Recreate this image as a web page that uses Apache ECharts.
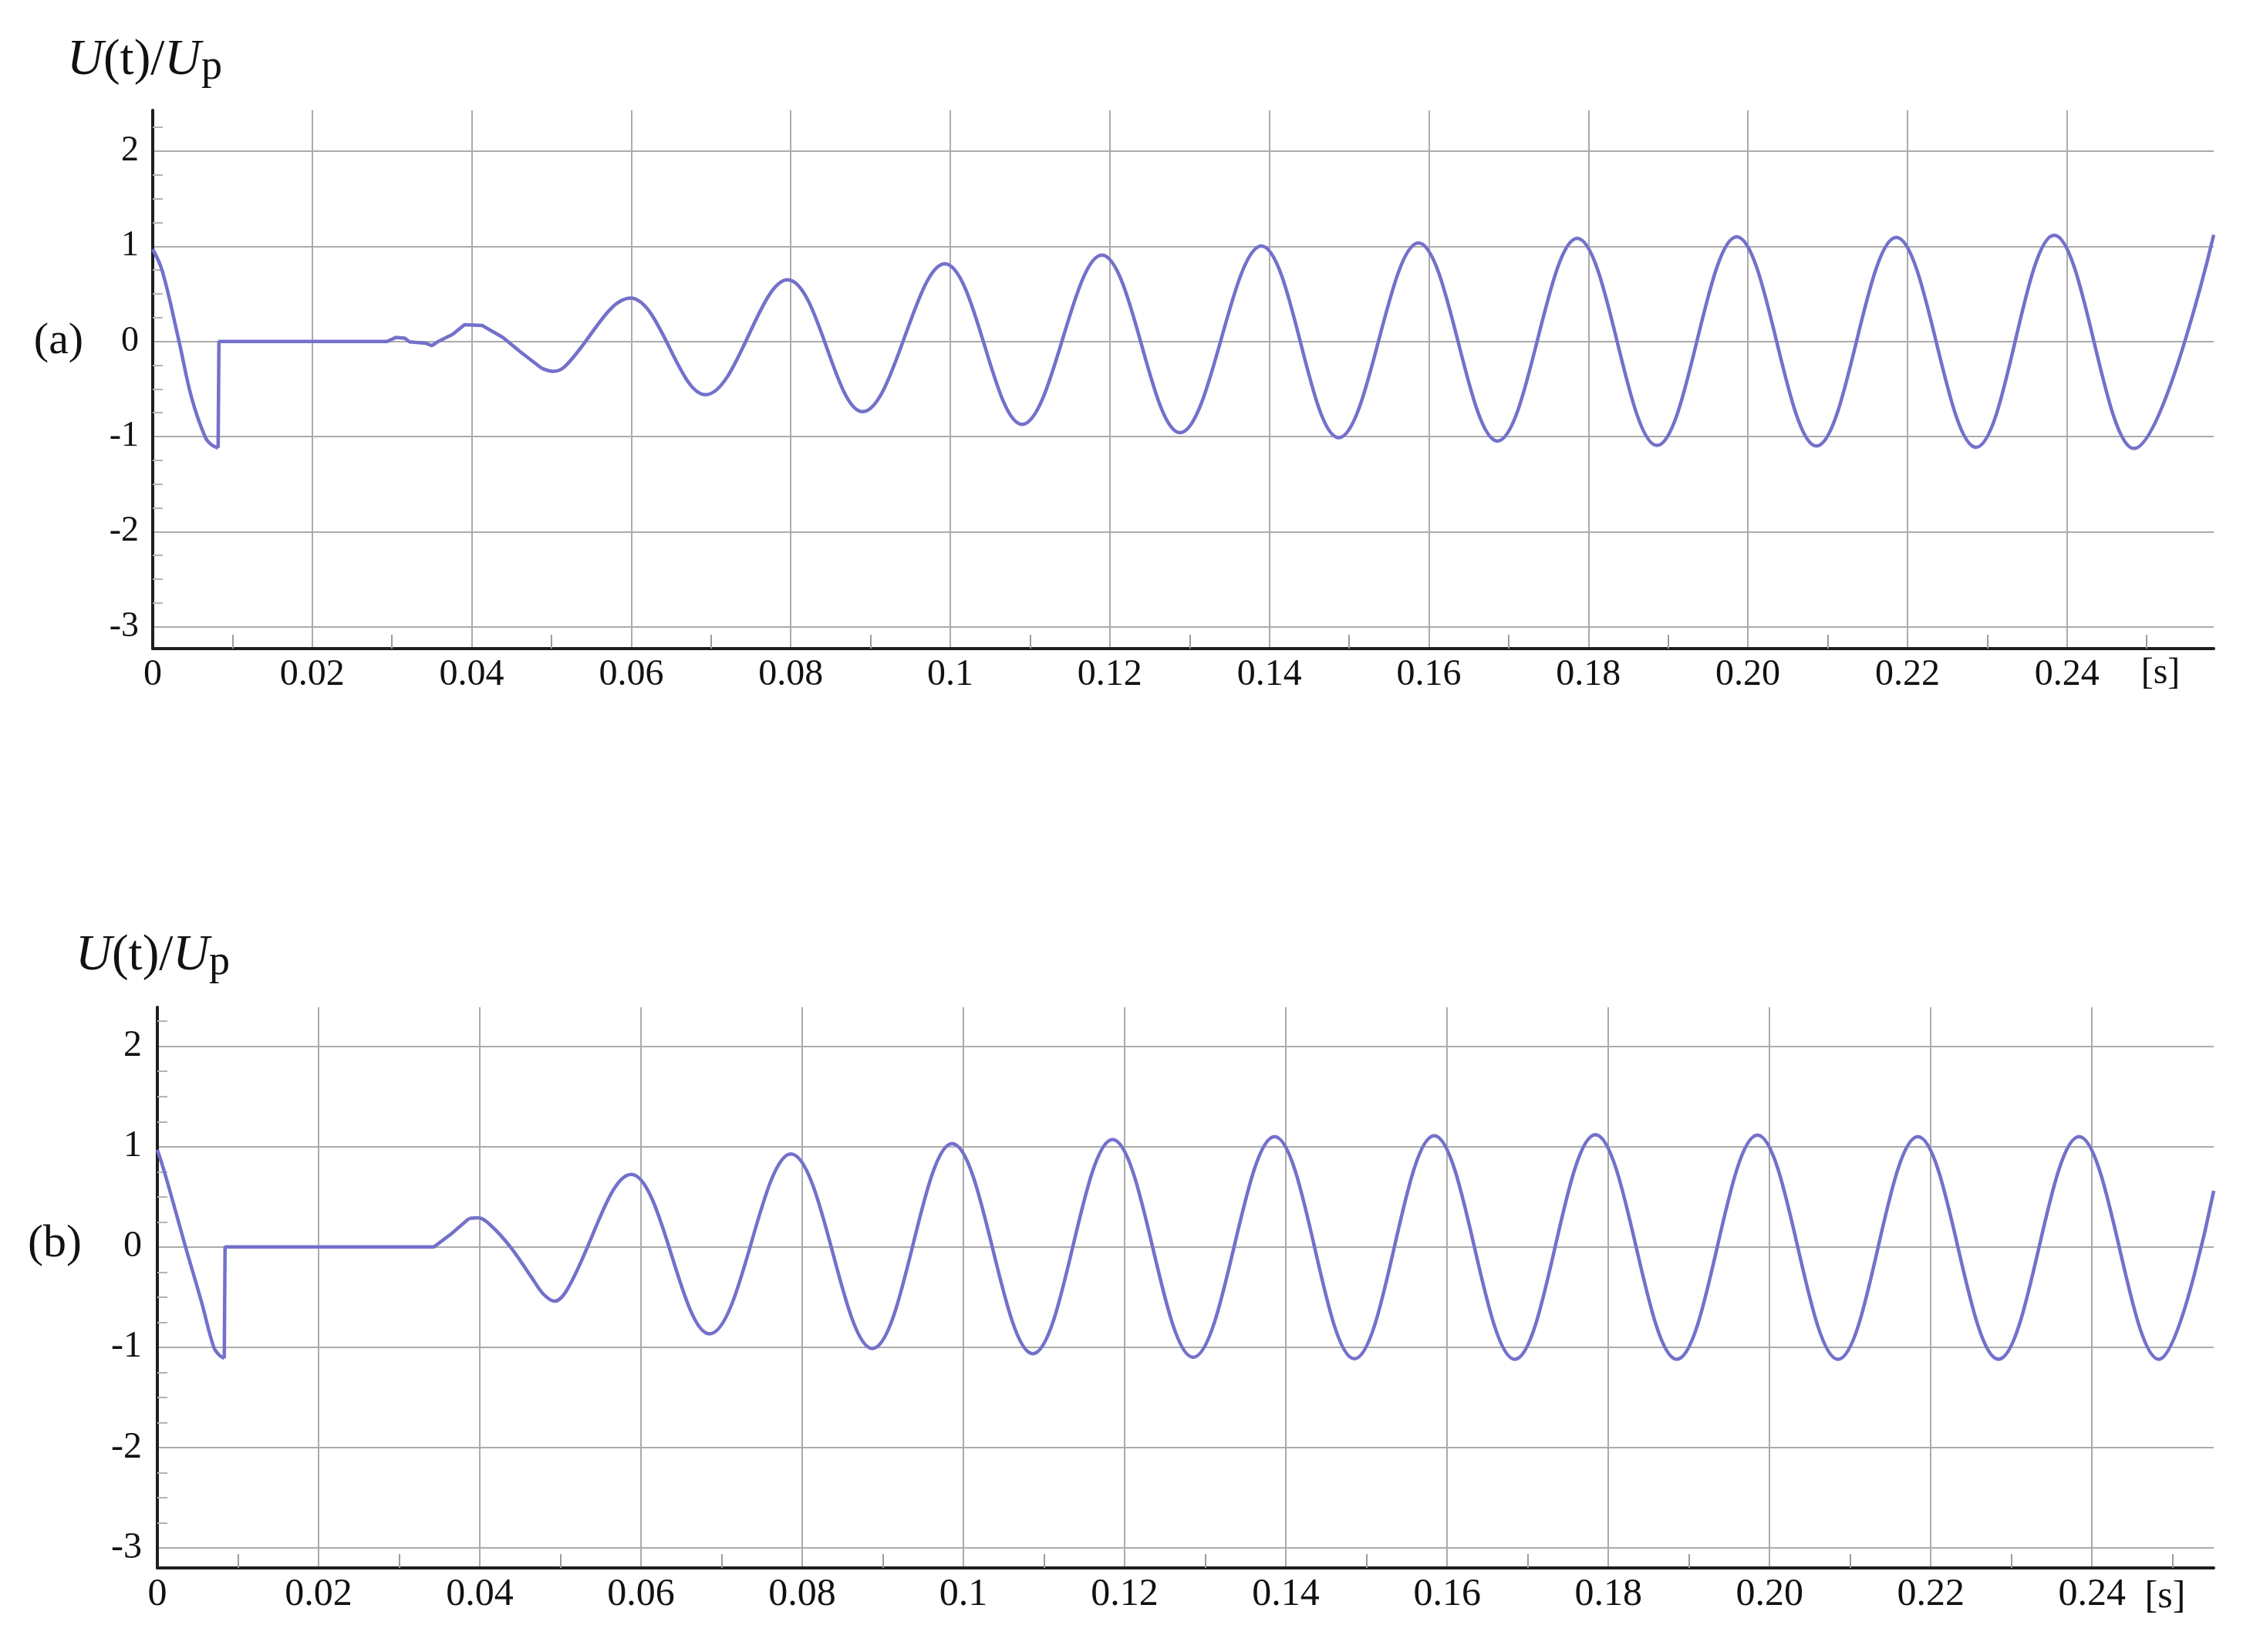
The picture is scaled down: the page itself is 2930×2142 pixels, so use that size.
<!DOCTYPE html>
<html>
<head>
<meta charset="utf-8">
<title>U(t)/Up</title>
<script src="https://cdn.jsdelivr.net/npm/echarts@6/dist/echarts.min.js"></script>
<style>
  html, body { margin: 0; padding: 0; background: #fff; }
  #chart { width: 2930px; height: 2142px; }
</style>
</head>
<body>
<div id="chart"></div>
<script>
// tick labels as printed (0.1 but 0.20)
const xTickLabels = ['0', '0.02', '0.04', '0.06', '0.08', '0.1', '0.12', '0.14', '0.16', '0.18', '0.20', '0.22', '0.24']

// (a): [t in s, U(t)/Up]
// first half wave up to the switching instant
const headA = [[0, 0.97], [0.0012, 0.74], [0.0033, 0], [0.0049, -0.6], [0.0066, -1.01], [0.0074, -1.09], [0.0082, -1.12]]
// jump to zero, dead time and the small ripples
const flatA = [[0.0082, -1.12], [0.0083, 0], [0.0294, 0], [0.0305, 0.042], [0.0316, 0.034], [0.0322, -0.005], [0.0342, -0.019],
  [0.035, -0.045], [0.0357, -0.005], [0.0376, 0.074], [0.0391, 0.175], [0.0413, 0.167], [0.0439, 0.042], [0.0461, -0.11], [0.0488, -0.284]]
// growing oscillation: troughs and peaks
const waveA = [[0.0488, -0.284], [0.0502, -0.315], [0.0516, -0.27], [0.0599, 0.455], [0.0693, -0.56], [0.0796, 0.648],
  [0.089, -0.739], [0.0993, 0.816], [0.109, -0.872], [0.119, 0.907], [0.1288, -0.96], [0.139, 1.003], [0.1487, -1.013],
  [0.1587, 1.035], [0.1686, -1.048], [0.1786, 1.083], [0.1886, -1.094], [0.1986, 1.1], [0.2086, -1.1], [0.2186, 1.094],
  [0.2286, -1.113], [0.2384, 1.117], [0.2484, -1.126], [0.2584, 1.12]]

// (b)
const headB = [[0, 0.97], [0.001, 0.715], [0.0035, 0], [0.0055, -0.555], [0.007, -1.0], [0.0077, -1.08], [0.0083, -1.11]]
const flatB = [[0.0083, -1.11], [0.0084, 0], [0.0343, 0], [0.0365, 0.133], [0.0387, 0.286]]
const waveB = [[0.0387, 0.286], [0.0398, 0.29], [0.0413, 0.22], [0.0438, 0], [0.0464, -0.3], [0.0479, -0.47], [0.0493, -0.54],
  [0.0508, -0.43], [0.0588, 0.723], [0.0685, -0.867], [0.0786, 0.928], [0.0887, -1.013], [0.0986, 1.031], [0.1086, -1.064],
  [0.1185, 1.072], [0.1285, -1.1], [0.1386, 1.1], [0.1485, -1.115], [0.1584, 1.11], [0.1684, -1.12], [0.1784, 1.12],
  [0.1885, -1.12], [0.1985, 1.115], [0.2085, -1.12], [0.2184, 1.1], [0.2284, -1.12], [0.2384, 1.1], [0.2483, -1.12],
  [0.2551, 0.56]]

const SERIF = '"Liberation Serif", "Times New Roman", serif'
const LINE = '#7371ca'
const GRID = '#ababab'
const AXIS = '#1e1e1e'
const TEXT = '#111'

function xAxisFor (gridIndex, max, fontSize) {
  return {
    type: 'value',
    gridIndex: gridIndex,
    min: 0,
    max: max,
    interval: 0.02,
    axisLine: {show: true, onZero: false, lineStyle: {color: AXIS, width: 4}},
    axisTick: {show: false, inside: true},
    minorTick: {show: true, splitNumber: 2, length: 18, lineStyle: {color: '#9c9c9c', width: 2}},
    splitLine: {show: true, showMinLine: false, showMaxLine: false, lineStyle: {color: GRID, width: 2}},
    axisLabel: {
      margin: 10,
      fontFamily: SERIF,
      fontSize: fontSize,
      lineHeight: fontSize,
      color: TEXT,
      showMaxLabel: false,
      formatter: v => xTickLabels[Math.round(v / 0.02)] || ''
    }
  }
}

function yAxisFor (gridIndex, min, max, fontSize, margin) {
  return {
    type: 'value',
    gridIndex: gridIndex,
    min: min,
    max: max,
    splitNumber: 5,
    axisLine: {show: true, onZero: false, lineStyle: {color: AXIS, width: 4}},
    axisTick: {show: false, inside: true},
    minorTick: {show: true, splitNumber: 4, length: 13, lineStyle: {color: '#b4b4b4', width: 2}},
    splitLine: {show: true, showMinLine: false, showMaxLine: false, lineStyle: {color: GRID, width: 2}},
    axisLabel: {
      margin: margin,
      fontFamily: SERIF,
      fontSize: fontSize,
      color: TEXT,
      showMinLabel: false,
      showMaxLabel: false
    }
  }
}

function lineSeries (data, axisIndex, smooth) {
  return {
    type: 'line',
    xAxisIndex: axisIndex,
    yAxisIndex: axisIndex,
    data: data,
    smooth: smooth,
    showSymbol: false,
    silent: true,
    lineStyle: {color: LINE, width: 4.5},
    z: 3
  }
}

function titleText (x, y, subX, subY) {
  return [{
    type: 'text',
    x: x,
    y: y,
    style: {
      text: '{i|U}(t)/{i|U}',
      fontFamily: SERIF,
      fontSize: 65,
      fill: TEXT,
      verticalAlign: 'middle',
      rich: {i: {fontStyle: 'italic', fontFamily: SERIF, fontSize: 65, fill: TEXT}}
    }
  }, {
    type: 'text',
    x: subX,
    y: subY,
    style: {text: 'p', fontFamily: SERIF, fontSize: 54, fill: TEXT, verticalAlign: 'middle'}
  }]
}

function plainText (text, x, y, size) {
  return {
    type: 'text',
    x: x,
    y: y,
    style: {text: text, fontFamily: SERIF, fontSize: size, fill: TEXT, align: 'center', verticalAlign: 'middle'}
  }
}

const myChart = echarts.init(document.getElementById('chart'), null, {renderer: 'canvas'})
myChart.setOption({
  animation: false,
  backgroundColor: '#fff',
  grid: [
    {left: 198, right: 60, top: 143, height: 698},
    {left: 204, right: 60, top: 1306, height: 727}
  ],
  xAxis: [xAxisFor(0, 0.2584, 48), xAxisFor(1, 0.2551, 50)],
  yAxis: [yAxisFor(0, -3.23, 2.43, 46, 18), yAxisFor(1, -3.2, 2.39, 48, 20)],
  series: [
    lineSeries(headA, 0, 0.4),
    lineSeries(flatA, 0, false),
    lineSeries(waveA, 0, 0.364),
    lineSeries(headB, 1, 0.4),
    lineSeries(flatB, 1, false),
    lineSeries(waveB, 1, 0.364)
  ],
  graphic: [].concat(
    titleText(87, 79, 261, 88),
    titleText(98, 1240, 271, 1249),
    [
      plainText('(a)', 76, 443, 58),
      plainText('(b)', 71, 1613, 60),
      plainText('[s]', 2801, 873, 48),
      plainText('[s]', 2807, 2071, 50)
    ]
  )
})
</script>
</body>
</html>
